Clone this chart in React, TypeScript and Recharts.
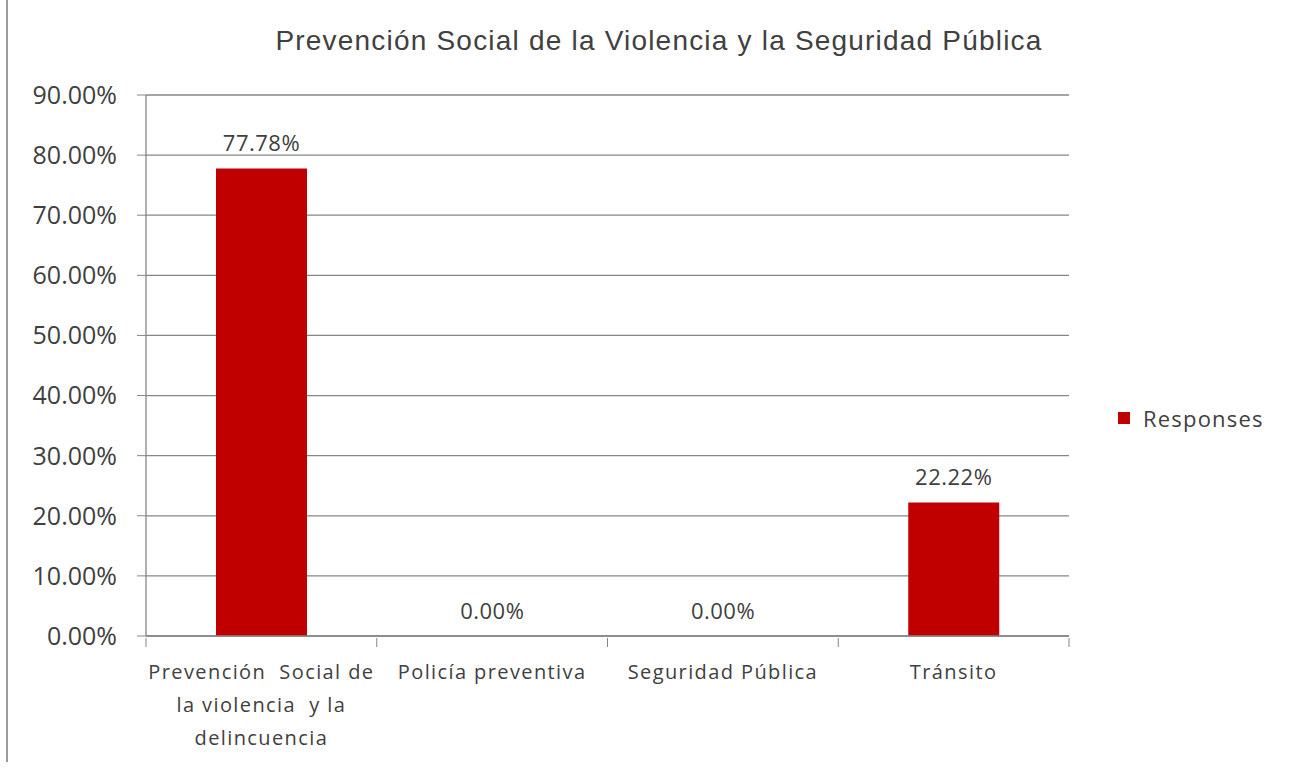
import { BarChart, Bar, XAxis, YAxis, CartesianGrid, Legend, LabelList } from "recharts";

const CATEGORIES = [
  "Prevención  Social de\nla violencia  y la\ndelincuencia",
  "Policía preventiva",
  "Seguridad Pública",
  "Tránsito",
];
const RESPONSES = [77.78, 0, 0, 22.22];
const Y_TICKS = [0, 10, 20, 30, 40, 50, 60, 70, 80, 90];
const TITLE = "Prevención Social de la Violencia y la Seguridad Pública";
const SERIES_NAME = "Responses";

const BAR_COLOR = "#C00000";
const AXIS_COLOR = "#868686";
const TEXT_COLOR = "#404040";
const FONT = "'Open Sans', 'DejaVu Sans', sans-serif";

const chartData = CATEGORIES.map((name, i) => ({ name, value: RESPONSES[i] }));

const pct = (v: number) => `${Number(v).toFixed(2)}%`;

function CategoryTick(props: any) {
  const { x, y, payload, index, width, visibleTicksCount } = props;
  const n = visibleTicksCount || CATEGORIES.length;
  const half = payload?.offset || width / (2 * n);
  const lines = String(payload.value).split("\n");
  return (
    <g>
      <line x1={x - half} x2={x - half} y1={y} y2={y + 9} stroke={AXIS_COLOR} />
      {index === n - 1 && <line x1={x + half} x2={x + half} y1={y} y2={y + 9} stroke={AXIS_COLOR} />}
      <text
        textAnchor="middle"
        fill={TEXT_COLOR}
        fontSize={20}
        fontFamily={FONT}
        letterSpacing={1.4}
        style={{ whiteSpace: "pre" }}
      >
        {lines.map((l, i) => (
          <tspan key={i} x={x} y={y + 41 + i * 33}>
            {l}
          </tspan>
        ))}
      </text>
    </g>
  );
}

// draws the value label even for zero-height bars
function ValueLabel(props: any) {
  const { x, y, width, value } = props;
  return (
    <text
      x={x + width / 2}
      y={y - 17}
      textAnchor="middle"
      fill={TEXT_COLOR}
      fontSize={22}
      fontFamily={FONT}
      letterSpacing={0.5}
    >
      {pct(value)}
    </text>
  );
}

function LegendBox() {
  return (
    <div
      style={{
        display: "flex",
        alignItems: "center",
        fontFamily: FONT,
        fontSize: 22,
        letterSpacing: 1.2,
        color: TEXT_COLOR,
        whiteSpace: "nowrap",
      }}
    >
      <span style={{ display: "inline-block", width: 12, height: 12, background: BAR_COLOR, marginRight: 13 }} />
      {SERIES_NAME}
    </div>
  );
}

export default function App() {
  return (
    <div style={{ position: "absolute", left: 0, top: 0, width: 1295, height: 769, background: "#fff" }}>
      <div style={{ position: "absolute", left: 6, top: 0, width: 2, height: 762, background: "#9a9a9a" }} />
      <div
        style={{
          position: "absolute",
          left: 0,
          width: 1318,
          top: 25,
          textAlign: "center",
          fontFamily: "'Liberation Sans', Arial, sans-serif",
          fontSize: 28,
          letterSpacing: 1.2,
          color: TEXT_COLOR,
          whiteSpace: "nowrap",
        }}
      >
        {TITLE}
      </div>
      <BarChart
        width={1295}
        height={769}
        data={chartData}
        margin={{ top: 95, right: 226, left: 0, bottom: 0 }}
        barCategoryGap={0}
      >
        <CartesianGrid vertical={false} stroke={AXIS_COLOR} strokeWidth={1.3} />
        <XAxis
          dataKey="name"
          height={133}
          tickLine={false}
          tickSize={0}
          axisLine={{ stroke: AXIS_COLOR, strokeWidth: 1.3 }}
          interval={0}
          tick={<CategoryTick />}
        />
        <YAxis
          width={146}
          domain={[0, 90]}
          ticks={Y_TICKS}
          tickFormatter={pct}
          tickSize={9}
          tickMargin={20}
          tickLine={{ stroke: AXIS_COLOR }}
          axisLine={{ stroke: AXIS_COLOR, strokeWidth: 1.3 }}
          tick={{ fill: TEXT_COLOR, fontSize: 25, fontFamily: FONT }}
        />
        <Legend
          layout="vertical"
          align="center"
          verticalAlign="middle"
          content={<LegendBox />}
          wrapperStyle={{ left: 1118, top: 403, width: 175 }}
        />
        <Bar
          dataKey="value"
          name={SERIES_NAME}
          fill={BAR_COLOR}
          barSize={91}
          minPointSize={0.01}
          isAnimationActive={false}
        >
          <LabelList dataKey="value" content={<ValueLabel />} />
        </Bar>
      </BarChart>
    </div>
  );
}
